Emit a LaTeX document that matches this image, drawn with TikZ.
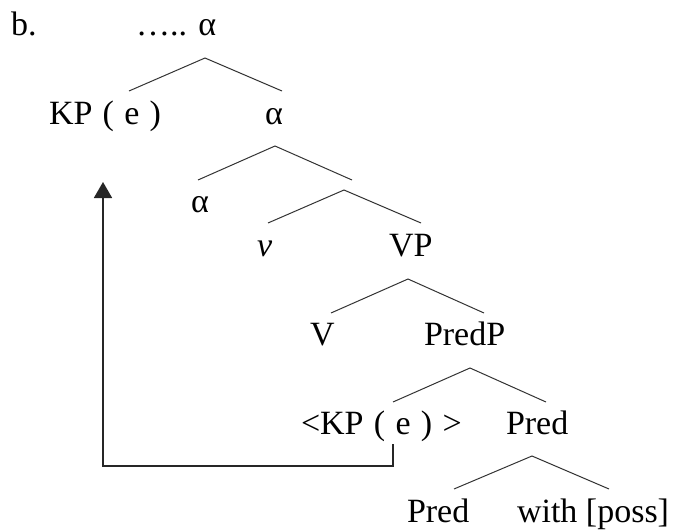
\documentclass[tikz,border=0pt]{standalone}
\usepackage{fontspec}
\setmainfont{Liberation Serif}
\usetikzlibrary{arrows.meta}
\begin{document}
\begin{tikzpicture}[x=1pt,y=-1pt,
  lbl/.style={anchor=base west,inner sep=0pt,outer sep=0pt,font=\fontsize{34}{40}\selectfont},
  wide/.style={execute at begin node={\spaceskip=10.3pt plus 0pt minus 0pt\relax}},
  branch/.style={line width=1pt,draw=black!80},
  move/.style={line width=1.8pt,draw=black!85,-{Triangle[length=16pt,width=18pt]}}]
\useasboundingbox (0,0) rectangle (675,532);
% labels
\node[lbl] (b) at (11,36) {b.};
\node[lbl] (top) at (136,36) {….. α};
\node[lbl,wide] (kp) at (49,125) {KP ( e )};
\node[lbl] (a1) at (265,125) {α};
\node[lbl] (a2) at (191,212) {α};
\node[lbl] (vv) at (257,256) {\itshape v};
\node[lbl] (vp) at (389,256) {VP};
\node[lbl] (v) at (310,345) {V};
\node[lbl] (predp) at (424,345) {PredP};
\node[lbl,wide] (kpt) at (301,434) {<KP ( e ) >};
\node[lbl] (pred) at (506,434) {Pred};
\node[lbl] (pred2) at (407,522) {Pred};
\node[lbl] (with) at (517,522) {with [poss]};
% branch points
\coordinate (t0) at (205,58);  \coordinate (t0l) at (129,91);  \coordinate (t0r) at (282,91);
\coordinate (t1) at (275,146); \coordinate (t1l) at (198,180); \coordinate (t1r) at (352,180);
\coordinate (t2) at (344,190); \coordinate (t2l) at (268,223); \coordinate (t2r) at (421,223);
\coordinate (t3) at (408,279); \coordinate (t3l) at (331,313); \coordinate (t3r) at (484,313);
\coordinate (t4) at (470,368); \coordinate (t4l) at (393,402); \coordinate (t4r) at (546,402);
\coordinate (t5) at (532,456); \coordinate (t5l) at (454,489); \coordinate (t5r) at (609,489);
\foreach \n in {t0,t1,t2,t3,t4,t5}{\draw[branch] (\n l) -- (\n) -- (\n r);}
% movement arrow
\coordinate (src) at (393,444);
\coordinate (corner) at (393,466);
\coordinate (tgt) at (103,182);
\draw[move] (src) -- (corner) -| (tgt);
\end{tikzpicture}
\end{document}
